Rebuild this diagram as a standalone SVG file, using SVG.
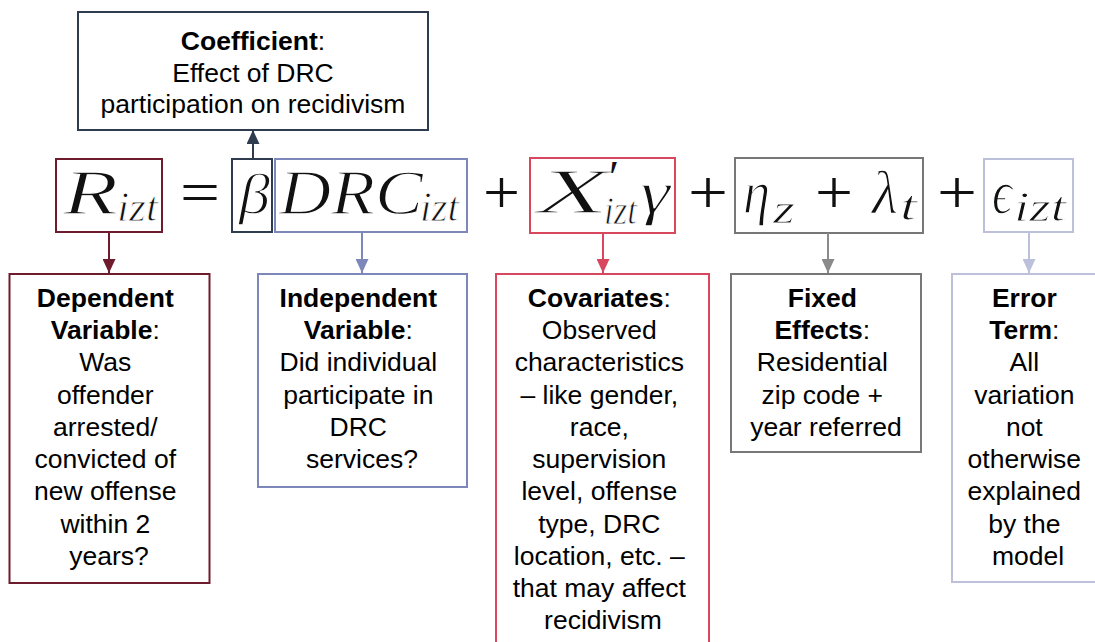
<svg xmlns="http://www.w3.org/2000/svg" width="1095" height="642" viewBox="0 0 1095 642">
<style>
.box{fill:#fff;stroke-width:2}
.lbl{font-family:"Liberation Sans",Arial,sans-serif;font-size:26.5px;fill:#000;text-anchor:middle}
.b{font-weight:bold}
.m{font-family:"Liberation Serif","DejaVu Serif",serif;font-style:italic;fill:#111;stroke:#fff;stroke-width:1.3px}
.s{stroke-width:0.9px}
.np{stroke:none}
.mu{font-family:"Liberation Serif","DejaVu Serif",serif;fill:#111}
.c1{stroke:#6E1B2D}.c2{stroke:#2F3B4F}.c3{stroke:#7E87BA}.c4{stroke:#D8475E}.c5{stroke:#777}.c6{stroke:#BCC0DA}
.con line{stroke-width:2}
</style>
<defs>
<marker id="a1" markerUnits="userSpaceOnUse" markerWidth="14" markerHeight="13" viewBox="0 0 14 13" refX="14" refY="6.5" orient="auto"><path d="M0,0L14,6.5L0,13z" fill="#6E1B2D"/></marker>
<marker id="a2" markerUnits="userSpaceOnUse" markerWidth="14" markerHeight="13" viewBox="0 0 14 13" refX="14" refY="6.5" orient="auto"><path d="M0,0L14,6.5L0,13z" fill="#2F3B4F"/></marker>
<marker id="a3" markerUnits="userSpaceOnUse" markerWidth="14" markerHeight="13" viewBox="0 0 14 13" refX="14" refY="6.5" orient="auto"><path d="M0,0L14,6.5L0,13z" fill="#7E87BA"/></marker>
<marker id="a4" markerUnits="userSpaceOnUse" markerWidth="14" markerHeight="13" viewBox="0 0 14 13" refX="14" refY="6.5" orient="auto"><path d="M0,0L14,6.5L0,13z" fill="#D8475E"/></marker>
<marker id="a5" markerUnits="userSpaceOnUse" markerWidth="14" markerHeight="13" viewBox="0 0 14 13" refX="14" refY="6.5" orient="auto"><path d="M0,0L14,6.5L0,13z" fill="#8A8A8A"/></marker>
<marker id="a6" markerUnits="userSpaceOnUse" markerWidth="14" markerHeight="13" viewBox="0 0 14 13" refX="14" refY="6.5" orient="auto"><path d="M0,0L14,6.5L0,13z" fill="#BCC0DA"/></marker>
</defs>
<rect width="1095" height="642" fill="#fff"/>

<g id="equation">
<text class="mu" x="180" y="213" font-size="62" textLength="40" lengthAdjust="spacingAndGlyphs">=</text>
<text class="mu" x="483" y="213" font-size="62" textLength="37" lengthAdjust="spacingAndGlyphs">+</text>
<text class="mu" x="688" y="213" font-size="62" textLength="40" lengthAdjust="spacingAndGlyphs">+</text>
<text class="mu" x="937" y="213" font-size="62" textLength="40" lengthAdjust="spacingAndGlyphs">+</text>
</g>

<g id="R">
<rect class="box c1" x="56" y="159" width="106" height="73"/>
<text class="m" x="63" y="214" font-size="64" textLength="55" lengthAdjust="spacingAndGlyphs">R</text>
<text class="m s" x="117" y="221" font-size="42" textLength="41" lengthAdjust="spacingAndGlyphs">izt</text>
</g>
<g id="beta">
<rect class="box c2" x="232" y="159" width="40" height="73"/>
<text class="m" x="239" y="213" font-size="58" textLength="31" lengthAdjust="spacingAndGlyphs">β</text>
</g>
<g id="DRC">
<rect class="box c3" x="275" y="159" width="192" height="73"/>
<text class="m" x="279" y="214" font-size="64" textLength="144" lengthAdjust="spacingAndGlyphs">DRC</text>
<text class="m s" x="420" y="221" font-size="42" textLength="39" lengthAdjust="spacingAndGlyphs">izt</text>
</g>
<g id="Xgamma">
<rect class="box c4" x="530" y="158" width="145" height="75"/>
<text class="m" font-size="64"><tspan x="537" y="213" textLength="72" lengthAdjust="spacingAndGlyphs">X</tspan><tspan class="np" x="609" y="193" font-size="46" font-style="normal">′</tspan><tspan class="s" x="604" y="224" font-size="40" textLength="33" lengthAdjust="spacingAndGlyphs">izt</tspan><tspan x="640" y="213" font-size="62" textLength="30" lengthAdjust="spacingAndGlyphs">γ</tspan></text>
</g>
<g id="eta">
<rect class="box c5" x="735" y="158" width="188" height="75"/>
<text class="m" x="743" y="213" font-size="62" textLength="27" lengthAdjust="spacingAndGlyphs">η</text>
<text class="m s" x="773" y="223" font-size="42" textLength="22" lengthAdjust="spacingAndGlyphs">z</text>
<text class="mu" x="815" y="213" font-size="62" textLength="38" lengthAdjust="spacingAndGlyphs">+</text>
<text class="m" x="872" y="213" font-size="62" textLength="26" lengthAdjust="spacingAndGlyphs">λ</text>
<text class="m s" x="900" y="220" font-size="42" textLength="17" lengthAdjust="spacingAndGlyphs">t</text>
</g>
<g id="epsilon">
<rect class="box c6" x="984" y="159" width="89" height="73"/>
<text class="m" x="992" y="213" font-size="62" textLength="20" lengthAdjust="spacingAndGlyphs">ϵ</text>
<text class="m s" x="1014" y="221" font-size="42" textLength="52" lengthAdjust="spacingAndGlyphs">izt</text>
</g>

<g id="coefficient">
<rect class="box c2" x="78" y="12" width="350" height="118"/>
<text class="lbl" x="253" y="50"><tspan class="b">Coefficient</tspan>:</text>
<text class="lbl" x="253" y="82">Effect of DRC</text>
<text class="lbl" x="253" y="113">participation on recidivism</text>
</g>

<g id="dependent">
<rect class="box c1" x="9.5" y="274" width="200" height="309"/>
<text class="lbl">
<tspan class="b" x="109" y="307">Dependent</tspan>
<tspan x="109" y="339"><tspan class="b">Variable</tspan>:</tspan>
<tspan x="109" y="371">Was</tspan>
<tspan x="109" y="404">offender</tspan>
<tspan x="109" y="436">arrested/</tspan>
<tspan x="109" y="468">convicted of</tspan>
<tspan x="109" y="500">new offense</tspan>
<tspan x="109" y="533">within 2</tspan>
<tspan x="109" y="565">years?</tspan>
</text>
</g>

<g id="independent">
<rect class="box c3" x="258" y="274" width="209" height="213"/>
<text class="lbl">
<tspan class="b" x="362" y="307">Independent</tspan>
<tspan x="362" y="339"><tspan class="b">Variable</tspan>:</tspan>
<tspan x="362" y="371">Did individual</tspan>
<tspan x="362" y="404">participate in</tspan>
<tspan x="362" y="436">DRC</tspan>
<tspan x="362" y="468">services?</tspan>
</text>
</g>

<g id="covariates">
<rect class="box c4" x="496" y="274" width="213" height="380"/>
<text class="lbl">
<tspan x="603" y="307"><tspan class="b">Covariates</tspan>:</tspan>
<tspan x="603" y="339">Observed</tspan>
<tspan x="603" y="371">characteristics</tspan>
<tspan x="603" y="404">– like gender,</tspan>
<tspan x="603" y="436">race,</tspan>
<tspan x="603" y="468">supervision</tspan>
<tspan x="603" y="500">level, offense</tspan>
<tspan x="603" y="533">type, DRC</tspan>
<tspan x="603" y="565">location, etc. –</tspan>
<tspan x="603" y="597">that may affect</tspan>
<tspan x="603" y="629">recidivism</tspan>
</text>
</g>

<g id="fixed">
<rect class="box c5" x="731" y="274" width="190" height="178"/>
<text class="lbl">
<tspan class="b" x="826" y="307">Fixed</tspan>
<tspan x="826" y="339"><tspan class="b">Effects</tspan>:</tspan>
<tspan x="826" y="371">Residential</tspan>
<tspan x="826" y="404">zip code +</tspan>
<tspan x="826" y="436">year referred</tspan>
</text>
</g>

<g id="error">
<rect class="box c6" x="952" y="274" width="160" height="308"/>
<text class="lbl">
<tspan class="b" x="1028" y="307">Error</tspan>
<tspan x="1028" y="339"><tspan class="b">Term</tspan>:</tspan>
<tspan x="1028" y="371">All</tspan>
<tspan x="1028" y="404">variation</tspan>
<tspan x="1028" y="436">not</tspan>
<tspan x="1028" y="468">otherwise</tspan>
<tspan x="1028" y="500">explained</tspan>
<tspan x="1028" y="533">by the</tspan>
<tspan x="1028" y="565">model</tspan>
</text>
</g>

<g id="connectors" class="con">
<line x1="253" y1="159" x2="253" y2="130" stroke="#2F3B4F" marker-end="url(#a2)"/>
<line x1="109" y1="232" x2="109" y2="273" stroke="#6E1B2D" marker-end="url(#a1)"/>
<line x1="362" y1="232" x2="362" y2="273" stroke="#7E87BA" marker-end="url(#a3)"/>
<line x1="603" y1="233" x2="603" y2="273" stroke="#D8475E" marker-end="url(#a4)"/>
<line x1="828" y1="233" x2="828" y2="273" stroke="#8A8A8A" marker-end="url(#a5)"/>
<line x1="1029" y1="232" x2="1029" y2="273" stroke="#BCC0DA" marker-end="url(#a6)"/>
</g>
</svg>
